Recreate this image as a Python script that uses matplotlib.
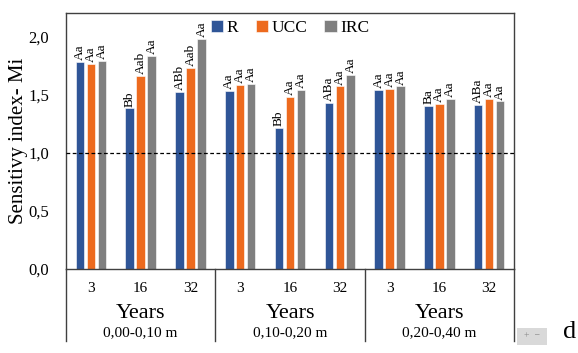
import numpy as np
import matplotlib
matplotlib.use("Agg")
import matplotlib.pyplot as plt
from matplotlib.patches import Rectangle

plt.rcParams['font.family'] = ['Liberation Serif', 'DejaVu Serif']

# Data
years = ["3", "16", "32"]
depths = ["0,00-0,10 m", "0,10-0,20 m", "0,20-0,40 m"]
series = ["R", "UCC", "IRC"]
r_vals = [1.78, 1.38, 1.52, 1.53, 1.21, 1.43, 1.54, 1.40, 1.41]
ucc_vals = [1.76, 1.66, 1.73, 1.58, 1.48, 1.57, 1.55, 1.42, 1.46]
irc_vals = [1.79, 1.83, 1.98, 1.59, 1.54, 1.67, 1.57, 1.46, 1.44]
r_lbl = ["Aa", "Bb", "ABb", "Aa", "Bb", "ABa", "Aa", "Ba", "ABa"]
ucc_lbl = ["Aa", "Aab", "Aab", "Aa", "Aa", "Aa", "Aa", "Aa", "Aa"]
irc_lbl = ["Aa", "Aa", "Aa", "Aa", "Aa", "Aa", "Aa", "Aa", "Aa"]
colors = ["#2F5597", "#ED6A1E", "#7F7F7F"]

W, H = 578, 353
fig = plt.figure(figsize=(W / 100, H / 100), dpi=100)
ax = fig.add_axes([66 / W, 1 - 269 / H, 448 / W, 256 / H])

x = np.arange(9) + 0.5
width = 0.17
step = 0.22
for k, (vals, lbls) in enumerate(zip([r_vals, ucc_vals, irc_vals],
                                     [r_lbl, ucc_lbl, irc_lbl])):
    xs = x + (k - 1) * step
    ax.bar(xs, vals, width, color=colors[k], edgecolor="white",
           linewidth=0.4, label=series[k], zorder=2)
    for xi, v, s in zip(xs, vals, lbls):
        ax.text(xi, v + 0.015, s, rotation=90, ha="center", va="bottom",
                fontsize=9.5)

ax.axhline(1.0, color="black", linestyle=(0, (3, 2)), linewidth=0.9, zorder=3)

ax.set_xlim(0, 9)
ax.set_ylim(0, 2.2)
ticks = np.arange(0, 2.01, 0.5)
ax.set_yticks(ticks)
ax.set_yticklabels([f"{t:.1f}".replace(".", ",") for t in ticks], fontsize=12)
ax.tick_params(axis="y", length=0, pad=12)
ax.set_xticks([])
for sp in ax.spines.values():
    sp.set_color("#404040")
    sp.set_linewidth(1.0)
ax.set_ylabel("Sensitivy index- Mi", fontsize=15, labelpad=0)

# category axis below the plot
tr = ax.get_xaxis_transform()
for i in range(9):
    ax.text(x[i], -0.075, years[i % 3], transform=tr, ha="center",
            va="center", fontsize=11)
for g in range(3):
    ax.text(g * 3 + 1.5, -0.172, "Years", transform=tr, ha="center",
            va="center", fontsize=16)
    ax.text(g * 3 + 1.5, -0.25, depths[g], transform=tr, ha="center",
            va="center", fontsize=11)
for g in range(4):
    ax.plot([g * 3, g * 3], [0, -0.28], transform=tr, color="#404040",
            linewidth=1.0, clip_on=False)

ax.legend(loc="upper center", bbox_to_anchor=(0.5, 1.035), ncol=3,
          frameon=False, fontsize=12.5, handlelength=0.7, handleheight=0.7,
          handletextpad=0.2, columnspacing=1.0)

# small +/- button and panel letter
fig.patches.append(Rectangle((517 / W, 1 - 345 / H), 30 / W, 17 / H,
                             transform=fig.transFigure, facecolor="#D9D9D9",
                             edgecolor="none"))
fig.text(532 / W, 1 - 336 / H, "+  \u2212", ha="center", va="center",
         fontsize=7, color="#8C8C8C")
fig.text(570 / W, 1 - 332 / H, "d", ha="center", va="center", fontsize=19)

fig.savefig("out.png", dpi=100)
